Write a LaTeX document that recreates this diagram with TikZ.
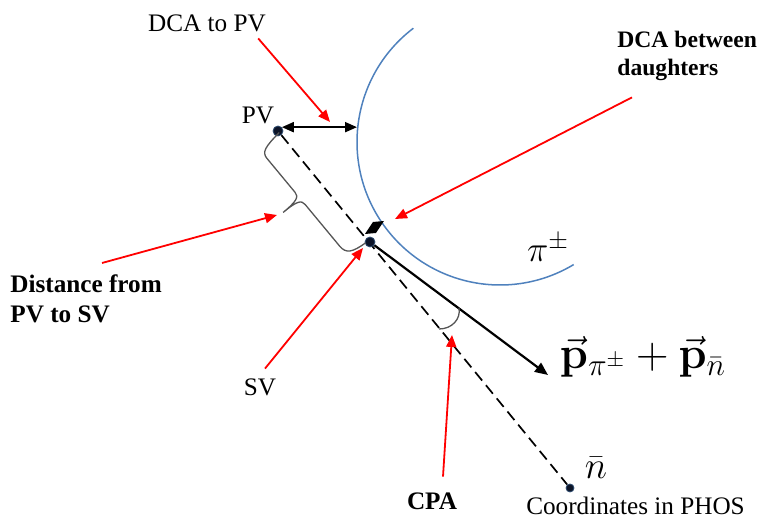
\RequirePackage{fix-cm}
\documentclass[tikz,border=0pt]{standalone}
\usepackage{amsmath}
\usepackage[no-math]{fontspec}
\setmainfont{Liberation Serif}
\usepackage{xcolor}
\definecolor{trackblue}{RGB}{79,129,189}
\definecolor{calloutred}{RGB}{255,0,0}
\definecolor{bracegray}{RGB}{85,85,85}
\definecolor{vertexnavy}{RGB}{12,20,40}
\usepackage{tikz}
\usetikzlibrary{arrows.meta,backgrounds}

\begin{document}
\begin{tikzpicture}[x=0.5pt, y=0.5pt,
  vertex/.style={circle, fill=vertexnavy, draw=trackblue!60!black, line width=0.4pt, inner sep=0pt, minimum size=5pt},
  lbl/.style={inner sep=0pt, font=\fontsize{12.6}{15}\selectfont},
  boldlbl/.style={inner sep=0pt, align=left, font=\fontsize{12.6}{15}\selectfont\bfseries},
  callout/.style={draw=calloutred, line width=0.9pt, -{Triangle[length=6pt,width=5pt]}},
  track/.style={draw=trackblue, line width=0.75pt},
  los/.style={draw=black, line width=0.85pt, dash pattern=on 5.5pt off 3pt},
  momentum/.style={draw=black, line width=1.1pt, -{Triangle[length=6.5pt,width=5.5pt]}},
  dcaline/.style={draw=black, line width=1pt, {Triangle[length=6pt,width=5pt]}-{Triangle[length=6pt,width=5pt]}},
  bracket/.style={draw=bracegray, line width=0.65pt}]
  \path[use as bounding box] (0,0) rectangle (760,518);

  % vertices and end points
  \node[vertex] (PV) at (278,387) {};
  \node[vertex] (SV) at (370,276) {};
  \node[vertex, minimum size=4pt] (nbar) at (570,30) {};
  \coordinate (ptip) at (548,143);
  \coordinate (trackc) at (500,376);
  \coordinate (dcapv) at (357,392);

  % pion track and DCA marker
  \draw[track] (trackc) ++(127.3:71.5pt) arc[start angle=127.3, end angle=301, radius=71.5pt];
  \fill (365,284) -- (373,296) -- (384,297) -- (376,285) -- cycle;

  \begin{scope}[on background layer]
    \draw[los] (PV) -- (nbar);
    \draw[momentum] (SV) -- (ptip);
  \end{scope}
  \draw[dcaline] (PV.north east) -- (PV.north east -| dcapv);

  % brace PV -- SV
  \begin{scope}[shift={(PV)}, rotate=-50.35]
    \draw[bracket] (2,0) .. controls (4,-20) and (6,-26) .. (14,-26) -- (58,-26)
      .. controls (64,-26) and (66,-30) .. (66,-48) .. controls (66,-30) and (68,-26) .. (74,-26)
      -- (128,-26) .. controls (138,-26) and (141,-20) .. (142,-4);
  \end{scope}

  % opening angle
  \coordinate (cpaA) at (459,210);
  \coordinate (cpaB) at (439,189);
  \draw[bracket] (cpaA) .. controls (461,199) and (452,189) .. (cpaB);

  % labels
  \node[lbl] (dcapvlbl) at (207,494.5) {DCA to PV};
  \node[lbl] (pvlbl) at (258,402.5) {PV};
  \node[boldlbl, anchor=north west, font=\fontsize{11.8}{14}\selectfont\bfseries] (dcabtw) at (617,487) {DCA between\\daughters};
  \node[boldlbl, anchor=north west] (dist) at (10,244) {Distance from\\PV to SV};
  \node[lbl] (svlbl) at (260,130.5) {SV};
  \node[boldlbl] (cpalbl) at (432,16.5) {CPA};
  \node[lbl] (phoslbl) at (635.5,12) {Coordinates in PHOS};
  \node[inner sep=0pt, font=\fontsize{19}{22}\selectfont] (nbarlbl) at (596,50) {$\bar{n}$};
  \node[inner sep=0pt, font=\fontsize{18}{21}\selectfont] (pilbl) at (548,270) {$\pi^{\pm}$};
  \node[inner sep=0pt, font=\fontsize{22.5}{26}\selectfont] (plbl) at (643,161) {$\vec{\mathbf{p}}_{\pi^{\pm}}+\vec{\mathbf{p}}_{\bar{n}}$};

  % callouts
  \coordinate (dcapvtip) at (330,396);
  \coordinate (dcabtwtip) at (395,299);
  \coordinate (disttip) at (277,303);
  \coordinate (svtip) at (363,270);
  \coordinate (cpatip) at (452,183);
  \draw[callout] ([shift={(-4pt,-3pt)}]dcapvlbl.south east) -- (dcapvtip);
  \draw[callout] ([shift={(7.5pt,-8pt)}]dcabtw.south west) -- (dcabtwtip);
  \draw[callout] ([shift={(46pt,5.5pt)}]dist.north west) -- (disttip);
  \draw[callout] ([shift={(2.5pt,5pt)}]svlbl.north) -- (svtip);
  \draw[callout] ([shift={(5.5pt,8pt)}]cpalbl.north) -- (cpatip);
\end{tikzpicture}
\end{document}
